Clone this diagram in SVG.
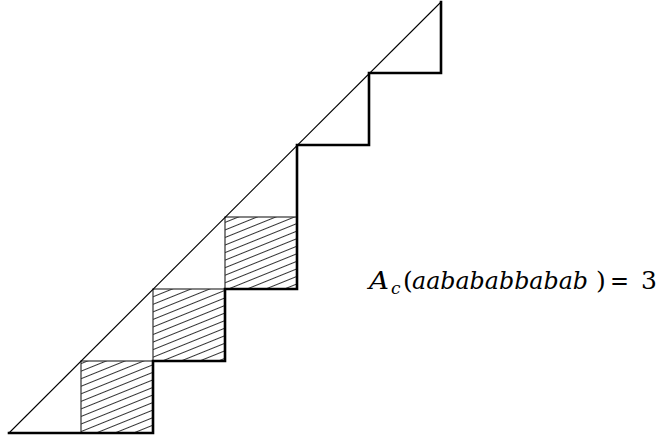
<svg xmlns="http://www.w3.org/2000/svg" width="665" height="439" viewBox="0 0 665 439">
<style>
.thin{fill:none;stroke:#000;stroke-width:1.1}
.hbox{stroke:#333;stroke-width:1.2}
.stair{fill:none;stroke:#000;stroke-width:2.6;stroke-linejoin:miter;stroke-linecap:square}
</style>
<defs>
<pattern id="hatch" patternUnits="userSpaceOnUse" width="12" height="7" patternTransform="rotate(-22)">
<line x1="0" y1="3.5" x2="12" y2="3.5" stroke="#333" stroke-width="1"/>
</pattern>
</defs>
<rect width="665" height="439" fill="#fff"/>
<g id="hatched">
<rect id="sq1" class="hbox" x="81" y="361" width="72" height="72" fill="url(#hatch)"/>
<rect id="sq2" class="hbox" x="153" y="289" width="72" height="72" fill="url(#hatch)"/>
<rect id="sq3" class="hbox" x="225" y="217" width="72" height="72" fill="url(#hatch)"/>
</g>
<g id="connectors">
<line class="thin" x1="9" y1="433" x2="441" y2="2"/>
<path class="stair" d="M9,433 H153 V361 H225 V289 H297 V145 H369 V73 H441 V2"/>
</g>
<g id="label" font-family="'DejaVu Serif', 'Liberation Serif', serif" font-size="25" fill="#000">
<text y="289"><tspan x="369" font-style="italic" textLength="20" lengthAdjust="spacingAndGlyphs">A</tspan><tspan x="391" y="294" font-style="italic" font-size="17">c</tspan><tspan x="403" y="289">(</tspan><tspan x="412" font-style="italic" textLength="176" lengthAdjust="spacingAndGlyphs">aabababbabab</tspan><tspan x="596">)</tspan><tspan x="610" textLength="19" lengthAdjust="spacingAndGlyphs">=</tspan><tspan x="641">3</tspan></text>
</g>
</svg>
